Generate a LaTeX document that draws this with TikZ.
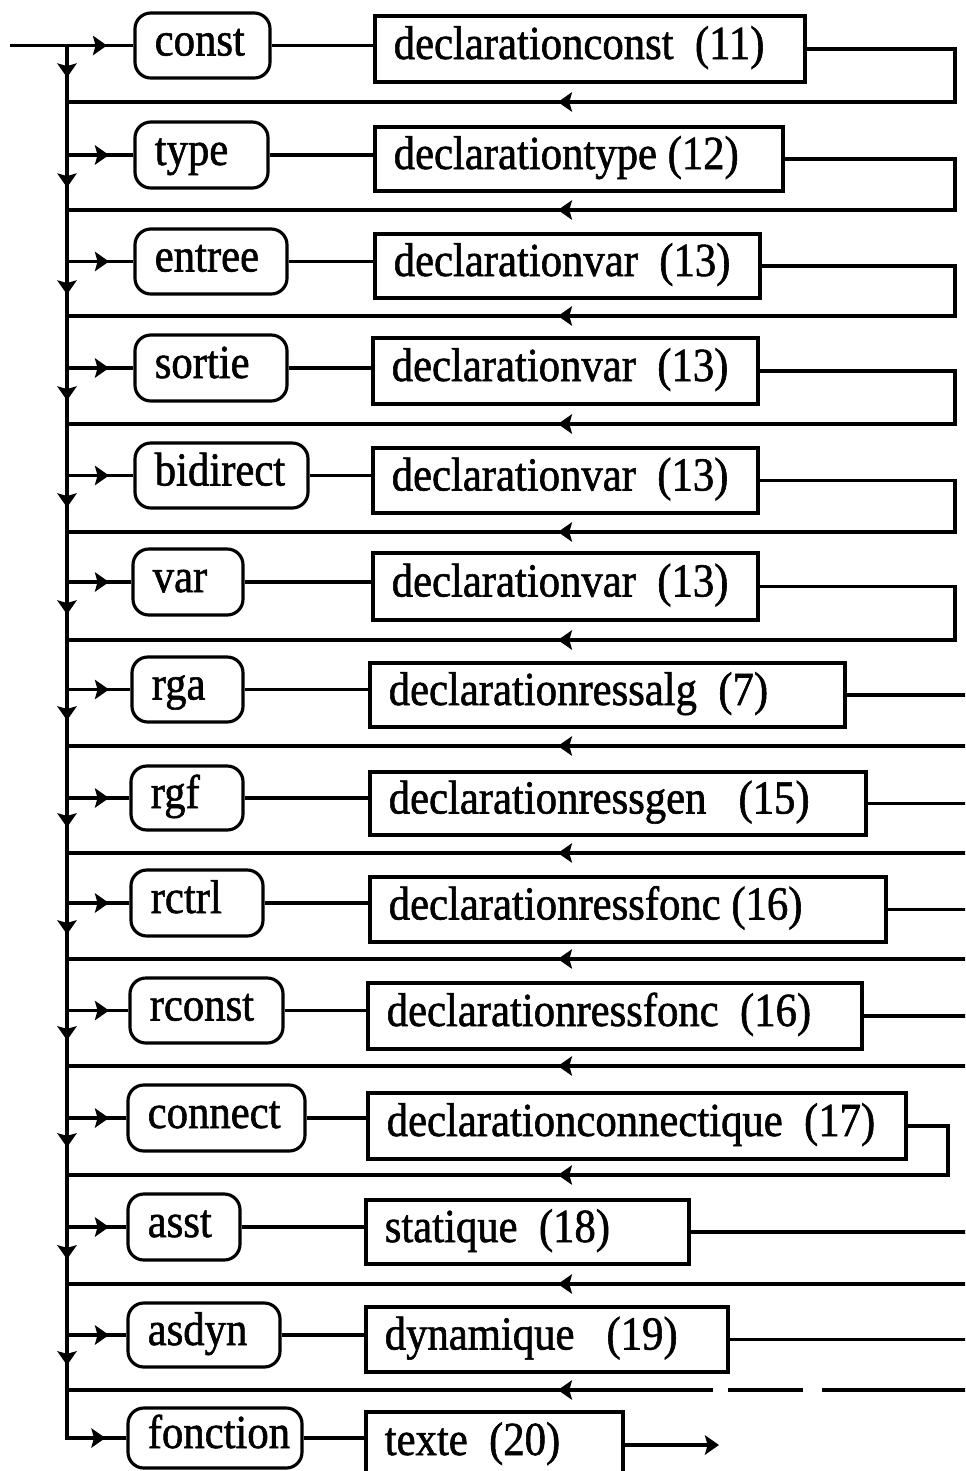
\documentclass[tikz,border=0pt]{standalone}
\usepackage{fontspec}
\newfontfamily\diagfont{Liberation Serif}[FakeStretch=0.9,FakeBold=1.2]
\usetikzlibrary{arrows.meta,decorations.markings}
\tikzset{
  conn/.style={line width=1.8pt},
  kwbox/.style={draw, line width=1.8pt, rounded corners=9pt, inner sep=0pt},
  rbox/.style={draw, line width=1.8pt, inner sep=0pt},
  lbl/.style={font=\diagfont\fontsize{27}{30}\selectfont, inner sep=0pt, anchor=base west},
  synarrow/.tip={Stealth[length=8pt,width=11pt,inset=1.5pt]},
  markat/.style={postaction={decorate,decoration={markings,mark=at position #1 with {\arrow{synarrow}}}}},
}
\newcommand\kwn[6]{%
  \node[kwbox, minimum width={(#4-#2)*0.02cm}, minimum height={(#5-#3)*0.02cm}] (#1) at ({(#2+#4)/2},{(#3+#5)/2}) {};
  \node[lbl] (#1t) at ([xshift=0.42cm,yshift=-0.2cm]#1.west) {#6};}
\newcommand\rbn[6]{%
  \node[rbox, minimum width={(#4-#2)*0.02cm}, minimum height={(#5-#3)*0.02cm}] (#1) at ({(#2+#4)/2},{(#3+#5)/2}) {};
  \node[lbl] (#1t) at ([xshift=0.4cm,yshift=-0.2cm]#1.west) {#6};}
\begin{document}
\begin{tikzpicture}[x=0.02cm,y=-0.02cm]
\fill[white] (0,0) rectangle (965,1471);
\clip (0,0) rectangle (965,1471);
% keyword boxes
\kwn{k1}{135}{13}{270}{78}{const}
\kwn{k2}{135}{122}{268}{188}{type}
\kwn{k3}{135}{229}{287}{294}{entree}
\kwn{k4}{135}{335}{287}{401}{sortie}
\kwn{k5}{135}{443}{308}{508}{bidirect}
\kwn{k6}{133}{549}{243}{615}{var}
\kwn{k7}{132}{657}{243}{722}{rga}
\kwn{k8}{131}{766}{243}{830}{rgf}
\kwn{k9}{131}{870}{263}{936}{rctrl}
\kwn{k10}{130}{978}{283}{1043}{rconst}
\kwn{k11}{128}{1085}{305}{1151}{connect}
\kwn{k12}{128}{1194}{240}{1260}{asst}
\kwn{k13}{128}{1303}{280}{1367}{asdyn}
\kwn{k14}{128}{1408}{302}{1468}{fonction}
% rule boxes
\rbn{r1}{375}{16}{805}{82}{declarationconst~~(11)}
\rbn{r2}{375}{127}{783}{191}{declarationtype (12)}
\rbn{r3}{375}{234}{760}{298}{declarationvar~~(13)}
\rbn{r4}{373}{338}{758}{404}{declarationvar~~(13)}
\rbn{r5}{373}{448}{758}{513}{declarationvar~~(13)}
\rbn{r6}{373}{553}{758}{620}{declarationvar~~(13)}
\rbn{r7}{370}{663}{845}{727}{declarationressalg~~(7)}
\rbn{r8}{370}{772}{866}{835}{declarationressgen~~~(15)}
\rbn{r9}{370}{877}{886}{942}{declarationressfonc (16)}
\rbn{r10}{368}{983}{862}{1049}{declarationressfonc~~(16)}
\rbn{r11}{368}{1093}{906}{1159}{declarationconnectique~~(17)}
\rbn{r12}{366}{1200}{689}{1264}{statique~~(18)}
\rbn{r13}{366}{1307}{728}{1372}{dynamique~~~(19)}
\rbn{r14}{366}{1412}{623}{1478}{texte~~(20)}
% coordinates
\coordinate (start) at (10,45.5);
\coordinate (edge) at (975,0);
\coordinate (exitc) at (719,0);
\foreach \i/\y in {1/45.5,2/155,3/261.5,4/368,5/475.5,6/582,7/689.5,8/798,9/903,10/1010.5,11/1118,12/1227,13/1335,14/1438}
  \coordinate (j\i) at (67,\y);
\foreach \i/\y in {1/102,2/210,3/316,4/424,5/532,6/640,7/746,8/853,9/959,10/1066,11/1175,12/1284,13/1390}
  \coordinate (q\i) at (67,\y);
\foreach \i/\x/\y in {1/955/102,2/955/210,3/955/316,4/955/424,5/955/532,6/955/640,11/948/1175}
  \coordinate (c\i) at (\x,\y);
% entry line
\draw[conn, markat=1.94cm] (start) -- (k1.west);
% main vertical with down arrows and last branch
\draw[conn, postaction={decorate,decoration={markings,
  mark=at position 0.64cm with {\arrow{synarrow}},
  mark=at position 2.84cm with {\arrow{synarrow}},
  mark=at position 4.98cm with {\arrow{synarrow}},
  mark=at position 7.10cm with {\arrow{synarrow}},
  mark=at position 9.24cm with {\arrow{synarrow}},
  mark=at position 11.38cm with {\arrow{synarrow}},
  mark=at position 13.50cm with {\arrow{synarrow}},
  mark=at position 15.64cm with {\arrow{synarrow}},
  mark=at position 17.78cm with {\arrow{synarrow}},
  mark=at position 19.90cm with {\arrow{synarrow}},
  mark=at position 22.04cm with {\arrow{synarrow}},
  mark=at position 24.28cm with {\arrow{synarrow}},
  mark=at position 26.40cm with {\arrow{synarrow}},
  mark=at position -0.42cm with {\arrow{synarrow}}}}]
  (j1) -- (j14) -- (k14.west);
% branches from vertical
\foreach \i in {2,...,13}
  \draw[conn, markat=0.84cm] (j\i) -- (k\i.west);
% keyword to rule
\foreach \i in {1,...,14}
  \draw[conn] (k\i.east) -- (k\i.east -| r\i.west);
% loops back on the right
\foreach \i in {1,2,3,4,5,6,11}
  \draw[conn, markat=-9.82cm] (r\i.east) -| (c\i) -- (q\i);
% lines running off the right edge
\foreach \i in {7,8,9,10,12,13}
  \draw[conn] (r\i.east) -- (r\i.east -| edge);
\foreach \i in {7,8,9,10,12}
  \draw[conn, markat=-9.82cm] (q\i -| edge) -- (q\i);
\draw[conn, dash pattern=on 3.06cm off 0.38cm on 1.5cm off 0.3cm on 20cm, markat=-9.82cm] (q13 -| edge) -- (q13);
% exit
\draw[conn, -{synarrow}] (r14.east) -- (r14.east -| exitc);
\end{tikzpicture}
\end{document}
